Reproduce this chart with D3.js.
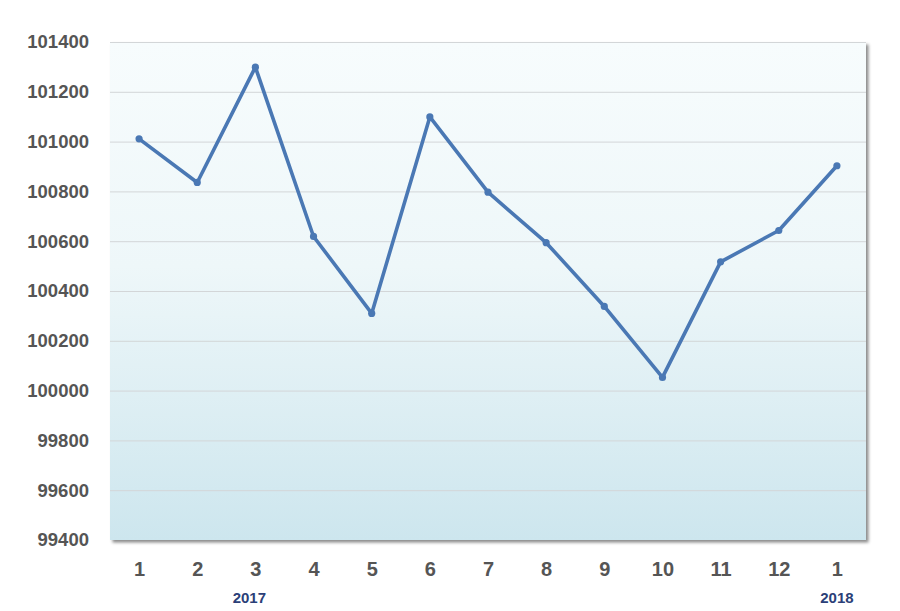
<!DOCTYPE html>
<html><head><meta charset="utf-8">
<script src="https://cdn.jsdelivr.net/npm/d3@7"></script>
<style>
html,body{margin:0;padding:0;background:#fff;}
svg{display:block;font-family:"Liberation Sans",Arial,sans-serif;}
</style></head>
<body>
<svg id="chart" width="900" height="611"></svg>
<script>
const months = ["1","2","3","4","5","6","7","8","9","10","11","12","1"];
const values = [101011,100836,101299,100619,100310,101099,100797,100594,100338,100053,100517,100643,100903];
const yearLabels = [{idx:2, text:"2017"},{idx:12, text:"2018"}];
const yTicks = [99400,99600,99800,100000,100200,100400,100600,100800,101000,101200,101400];

const svg = d3.select("#chart");
const m = {left:110, right:34, top:42, bottom:71};
const W = 900, H = 611;
const iw = W - m.left - m.right, ih = H - m.top - m.bottom;

const defs = svg.append("defs");
const grad = defs.append("linearGradient").attr("id","bg").attr("x1",0).attr("y1",0).attr("x2",0).attr("y2",1);
grad.append("stop").attr("offset","0%").attr("stop-color","#f7fcfd");
grad.append("stop").attr("offset","45%").attr("stop-color","#eef7f9");
grad.append("stop").attr("offset","100%").attr("stop-color","#cde6ee");
const f = defs.append("filter").attr("id","sh").attr("x","-5%").attr("y","-5%").attr("width","110%").attr("height","110%");
f.append("feDropShadow").attr("dx",2.5).attr("dy",2.5).attr("stdDeviation",1.6).attr("flood-color","#000").attr("flood-opacity",0.45);

const g = svg.append("g").attr("transform",`translate(${m.left},${m.top})`);

const x = d3.scalePoint().domain(d3.range(months.length)).range([0,iw]).padding(0.5);
const y = d3.scaleLinear().domain([99400,101400]).range([ih,0]);

g.append("rect").attr("width",iw).attr("height",ih).attr("fill","url(#bg)").attr("filter","url(#sh)");

// gridlines
g.append("g").call(d3.axisLeft(y).tickValues(yTicks).tickSize(-iw).tickFormat(""))
  .call(a=>a.select(".domain").remove())
  .call(a=>a.selectAll("line").attr("stroke","#d3d6d8").attr("stroke-width",1))
  .call(a=>a.selectAll(".tick").filter(d=>d===99400).remove());

// y labels
g.append("g").attr("transform","translate(-21,0)")
  .call(d3.axisLeft(y).tickValues(yTicks).tickSize(0).tickPadding(0).tickFormat(d=>String(d)))
  .call(a=>a.select(".domain").remove())
  .call(a=>a.selectAll("text").attr("fill","#555").attr("font-size","18.5px").attr("font-weight","bold").attr("font-family","'Liberation Sans',Arial,sans-serif"));

// x labels
g.append("g").attr("transform",`translate(0,${ih+21})`)
  .call(d3.axisBottom(x).tickSize(0).tickPadding(0).tickFormat(i=>months[i]))
  .call(a=>a.select(".domain").remove())
  .call(a=>a.selectAll("text").attr("fill","#555").attr("font-size","20px").attr("font-weight","bold").attr("font-family","'Liberation Sans',Arial,sans-serif").attr("dy","0.75em"));

// year labels
g.selectAll(".yr").data(yearLabels).enter().append("text")
  .attr("x",d=>x(d.idx) + (d.idx===2?-6:0)).attr("y",ih+63)
  .attr("text-anchor","middle").attr("fill","#2b3f78").attr("font-size","15px").attr("font-weight","bold")
  .text(d=>d.text);

// line
const line = d3.line().x((d,i)=>x(i)).y(d=>y(d));
g.append("path").datum(values).attr("d",line).attr("fill","none")
  .attr("stroke","#4a78b4").attr("stroke-width",3.6).attr("stroke-linejoin","round");
g.selectAll(".pt").data(values).enter().append("circle")
  .attr("cx",(d,i)=>x(i)).attr("cy",d=>y(d)).attr("r",3.6).attr("fill","#4a78b4");
</script>
</body></html>
